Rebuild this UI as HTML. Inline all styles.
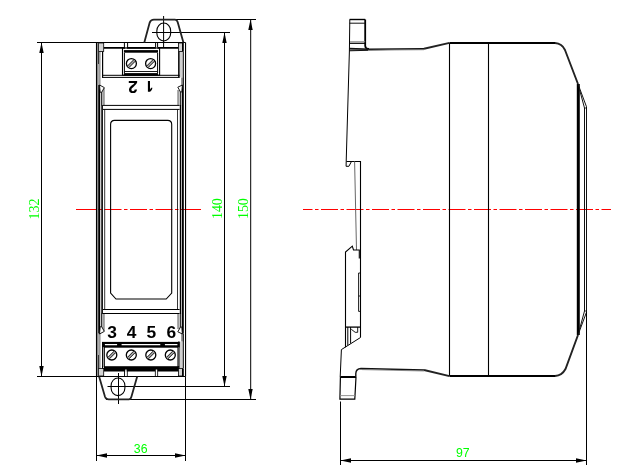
<!DOCTYPE html>
<html><head><meta charset="utf-8">
<style>
html,body{margin:0;padding:0;background:#fff;}
body{width:626px;height:466px;overflow:hidden;font-family:"Liberation Sans",sans-serif;}
svg{display:block;}
text{font-family:"Liberation Sans",sans-serif;}
.ser{font-family:"Liberation Serif",serif;}
</style></head><body>
<svg width="626" height="466" viewBox="0 0 626 466">
<defs>
<filter id="noop" x="0" y="0" width="626" height="466" filterUnits="userSpaceOnUse"><feOffset dx="0" dy="0"/></filter>
<g id="screw">
  <circle r="5" fill="#fff" stroke="#000" stroke-width="1.3"/>
  <path d="M-3.9,2.4 L2.4,-3.9 L3.9,-2.4 L-2.4,3.9 Z" fill="#aaa" stroke="none"/>
  <path d="M-3.9,2.4 L2.4,-3.9 M-2.4,3.9 L3.9,-2.4" stroke="#000" stroke-width="0.9" fill="none"/>
</g>
<path id="ahU" d="M0,0 L-2.2,10.5 L2.2,10.5 Z" fill="#000"/>
<path id="ahD" d="M0,0 L-2.2,-10.5 L2.2,-10.5 Z" fill="#000"/>
<path id="ahL" d="M0,0 L10.5,-2.2 L10.5,2.2 Z" fill="#000"/>
<path id="ahR" d="M0,0 L-10.5,-2.2 L-10.5,2.2 Z" fill="#000"/>
</defs>
<rect width="626" height="466" fill="#fff"/>

<!-- red centre lines -->
<g stroke="#f00" stroke-width="1.2" fill="none">
<path d="M76,209.5 H96.5 M181,209.5 H201"/>
<path d="M79,209.5 H198" stroke-dasharray="17 2.5 3.5 2.5"/>
<path d="M303,209.5 H611" stroke-dasharray="17 2.5 3.5 2.5" stroke-dashoffset="7.5"/>
</g>

<!-- FRONT VIEW -->
<g stroke="#000" stroke-width="1" fill="none">
<!-- extension + dims -->
<path d="M37,42.5 H185.5 M37,376.5 H185.5"/>
<path d="M41.5,42.5 V376.5"/>
<path d="M153,19.5 H256 M106,399.5 H256 M250.7,19.5 V399.5"/>
<path d="M152,32.5 H230 M107.5,386.5 H230 M224.5,32.5 V386.5"/>
<path d="M163.6,16 V47.5 M118.5,373 V404"/>
<path d="M96.5,376.5 V461 M185.5,376.5 V461 M96.5,455.5 H185.5"/>
</g>
<use href="#ahU" x="41.5" y="42.5"/><use href="#ahD" x="41.5" y="376.5"/>
<use href="#ahU" x="224.5" y="32.5"/><use href="#ahD" x="224.5" y="386.5"/>
<use href="#ahU" x="250.5" y="19.5"/><use href="#ahD" x="250.5" y="399.5"/>
<use href="#ahL" x="96.5" y="455.5"/><use href="#ahR" x="185.5" y="455.5"/>

<!-- tabs -->
<g stroke="#222" stroke-width="1.8" fill="none">
<path d="M144.3,42.4 L149.7,22.6 Q150.7,19.7 153.9,19.7 H174.85 Q177,19.7 177.8,22.6 L183.4,42.4"/>
<path d="M99.1,376.5 L105,396.8 Q106,399.4 108.75,399.4 H128.85 Q130.6,399.4 131.4,396.8 L137.2,376.5"/>
<rect x="156.85" y="23" width="13.8" height="18" rx="6.9" ry="7.8" stroke="#000" stroke-width="1.1"/>
<rect x="111.1" y="378" width="13.8" height="17.6" rx="6.9" ry="7.7" stroke="#000" stroke-width="1.1"/>
</g>

<!-- body -->
<g stroke="#000" fill="none">
<!-- grey bands -->
<g fill="#9a9a9a" stroke="none">
<rect x="98.2" y="51.4" width="2.4" height="33.6"/>
<rect x="98.2" y="333.6" width="2.4" height="35"/>
<rect x="181" y="77.4" width="2.5" height="7.6"/>
<rect x="181" y="333.6" width="2.5" height="8"/>
<rect x="102.4" y="88" width="2.4" height="17"/><rect x="177.2" y="90" width="2.4" height="15"/>
<rect x="102.4" y="314" width="2.4" height="17"/><rect x="177.2" y="314" width="2.4" height="15"/>
</g>
<g fill="#d0d0d0" stroke="none">
<rect x="179.6" y="51.4" width="3.2" height="26"/>
<rect x="179.6" y="341.6" width="3.2" height="26.8"/>
</g>
<!-- corner boxes -->
<g fill="#d4d4d4" stroke="#000" stroke-width="0.8">
<rect x="98.6" y="43" width="5.1" height="8.4"/><rect x="178.5" y="43" width="4" height="8.4"/>
<rect x="98.6" y="368.4" width="5.1" height="7.6"/><rect x="178.5" y="368.4" width="4" height="7.6"/>
</g>
<!-- L1 -->
<path d="M96.7,42.4 V376.5" stroke-width="1.5"/><path d="M185.55,42.4 V376.5" stroke-width="1.1"/>
<!-- L2 black -->
<path d="M99.2,85 V333.6 M182.8,85 V333.6" stroke-width="2"/>
<path d="M98.5,51.4 V64 M98.5,355 V368.4" stroke-width="0.7"/>
<path d="M182.9,42.4 V51.4 M182.9,368.4 V376.5" stroke-width="1.8"/>
<path d="M183.3,51.4 V85 M183.3,333.6 V368.4" stroke-width="1"/>
<!-- recess verticals -->
<path d="M102.6,51.4 V77.4 M102.6,341.9 V368.4" stroke-width="1.2"/>
<path d="M178.85,51.4 V77.6 M178.85,341.6 V368.4" stroke-width="1.5"/>
<!-- L3 -->
<path d="M101.6,92 V105.5 M180.6,92 V105.5 M101.6,313.5 V327 M180.6,313.5 V327" stroke-width="0.9"/>
<path d="M102.1,105 V314" stroke-width="1.6"/><path d="M180.45,105 V314" stroke-width="1.3"/>
<!-- L4 -->
<path d="M104.7,109.4 V309.5 M177.5,109.4 V309.5" stroke-width="0.8"/>
<!-- notches -->
<path d="M99.5,85 L104.3,87.6 L101.7,92.3 L100.2,92.3 Z M182.4,85 L177.8,87.2 L180.5,92 L181.8,92 Z" fill="#fff" stroke-width="0.9"/>
<path d="M99.5,334 L104.3,331.4 L101.7,326.7 L100.2,326.7 Z M182.4,334 L177.8,331.8 L180.5,327 L181.8,327 Z" fill="#fff" stroke-width="0.9"/>
<!-- horizontals -->
<path d="M103.9,47.85 H178.2" stroke-width="1.6"/>
<path d="M102,75.3 H179.6 M102,77.4 H179.6" stroke-width="1"/>
<path d="M103,105.4 H179.6 M103,109.4 H179.6 M103,313.5 H179.6 M103,309.5 H179.6" stroke-width="1"/>
<!-- top ticks -->
<path d="M124.4,42.5 V47.5 M127.6,42.5 V47.5 M155.6,42.5 V47.5 M157.6,42.5 V47.5" stroke-width="1"/>
<path d="M126,47 V49.1 M156.6,47 V49.1" stroke="#fff" stroke-width="1.6"/>
<!-- bottom ticks -->
<path d="M124.6,370 V376.5 M127.2,370 V376.5 M155.4,370 V376.5 M157.6,370 V376.5" stroke-width="1"/>
<!-- display -->
<path d="M110.6,293 V124.5 Q110.6,120.4 114.6,120.4 H167.7 Q171.7,120.4 171.7,124.5 V293 L166.2,299 H116 Z" stroke-width="1.1"/>
</g>

<!-- top terminal block -->
<g stroke="#000" fill="none">
<rect x="122.5" y="48" width="37.1" height="27.2" stroke-width="1.1"/>
<rect x="123.9" y="50.1" width="34.1" height="2.6" fill="#000" stroke="none"/>
<path d="M124.4,53 V73 M157.6,53 V73" stroke-width="1"/>
<path d="M124.4,71.5 H157.6" stroke-width="0.9"/>
<rect x="123.9" y="73.1" width="34.1" height="2.3" fill="#000" stroke="none"/>
</g>
<use href="#screw" x="131.4" y="63.6"/><use href="#screw" x="150.6" y="63.6"/>

<!-- bottom terminal block -->
<g stroke="#000" fill="none">
<rect x="102" y="341.9" width="77.7" height="5.8" fill="#000" stroke="none"/>
<path d="M104.9,344.6 H117.1 M121.6,344.6 H160.3 M164.9,344.6 H177.4" stroke="#fff" stroke-width="1.1"/>
<rect x="104" y="366.2" width="74.3" height="5.3" fill="#000" stroke="none"/>
<path d="M104.3,347 V367 M178,347 V367" stroke-width="1.1"/>
<path d="M103.4,347 V366 M178.9,347 V366" stroke="#999" stroke-width="0.8"/>
<path d="M125.9,369.6 V376 M156.5,369.6 V376" stroke="#fff" stroke-width="1.4"/>
</g>
<use href="#screw" x="111.8" y="355"/><use href="#screw" x="131.3" y="355"/><use href="#screw" x="150.8" y="355"/><use href="#screw" x="170.3" y="355"/>

<!-- labels -->
<g filter="url(#noop)">
<g font-weight="bold" font-size="15.8" fill="#000" text-anchor="middle">
<text transform="translate(112,337.9) scale(1.1,1)">3</text>
<text transform="translate(131.6,337.9) scale(1.1,1)">4</text>
<text transform="translate(151.4,337.9) scale(1.1,1)">5</text>
<text transform="translate(171.3,337.9) scale(1.1,1)">6</text>
<text transform="translate(132.9,80.85) rotate(180) scale(1.1,1)">2</text>
</g>
<path d="M147.9,80.95 H150 V89.4 L151.2,87.7 H152.4 C152.2,89.4 151.5,90.9 150,91.8 H147.9 Z" fill="#000" stroke="none"/>
</g>

<!-- dimension text -->
<g fill="#00ff00" filter="url(#noop)">
<text x="140.7" y="453" font-size="12.3" text-anchor="middle">36</text>
<text x="462.8" y="457" font-size="12.3" text-anchor="middle">97</text>
<g class="ser" font-size="15.4" text-anchor="middle">
<text class="ser" transform="translate(38.9,209) rotate(-90) scale(0.91,1)">132</text>
<text class="ser" transform="translate(222,208.6) rotate(-90) scale(0.9,1)">140</text>
<text class="ser" transform="translate(248,208.6) rotate(-90) scale(0.9,1)">150</text>
</g>
</g>

<!-- SIDE VIEW -->
<g stroke="#000" fill="none">
<!-- main body box -->
<path d="M449.5,43 H555" stroke-width="2"/>
<path d="M449.5,376 H555" stroke-width="2"/>
<path d="M449.5,43 V376 M488.5,43 V376" stroke-width="1.1"/>
<!-- front bezel -->
<path d="M555,43 Q562,43.5 565,50 L578,84" stroke="#222" stroke-width="1.9"/>
<path d="M555,376 Q562,375.5 565.5,369 L578,335" stroke="#222" stroke-width="1.9"/>
<path d="M578.3,84 V335" stroke-width="3"/>
<path d="M578,84 L586.5,106.8 V312.2 L578,335" stroke-width="1" stroke="#111"/>
<path d="M579.5,89.5 L584.5,108 V311 L579.5,329.5" stroke-width="1" stroke="#111"/>
<path d="M584.5,108 H586.5 M584.5,311 H586.5" stroke-width="0.8"/>
<!-- 97 dim -->
<path d="M586.5,312 V465 M340.5,401.5 V465 M340.5,460.5 H586.5" stroke-width="1"/>
</g>
<use href="#ahL" x="340.5" y="460.5"/><use href="#ahR" x="586.5" y="460.5"/>

<g stroke="#000" fill="none" stroke-width="1">
<!-- top tab -->
<path d="M349.6,19.5 H365.2" stroke-width="1.4"/>
<path d="M365.2,19.5 V46 Q365.5,49 369,49" stroke-width="1.8"/>
<path d="M349.6,23.2 H365.2" stroke-width="1" stroke="#111"/>
<path d="M349.6,41.7 H365.2" stroke-width="0.9" stroke="#888"/>
<path d="M349.6,43.3 H365.2" stroke-width="1.2"/>
<path d="M349.6,48.3 L349.6,51 L388,50 Z" fill="#888" stroke="none"/>
<path d="M349.6,48.5 L369,49.3 L424,48.7" stroke-width="1.5" stroke="#111"/>
<path d="M424,48.7 L449.5,42.9" stroke-width="1.9" stroke="#222"/>
<path d="M349.6,50.8 L368,50.3" stroke-width="1" stroke="#111"/>
<path d="M368,50.3 L395,49.9 L424,49.7" stroke-width="0.8" stroke="#666"/>
<!-- left edge -->
<path d="M349.8,19.5 L349.4,51 L346.2,161.5 L346.1,166.3 H348.9 L351.5,161.4" stroke-width="1"/>
<path d="M346.3,161.5 H360.5 V337.5" stroke-width="1.1"/>
<path d="M354.6,161.4 L356.5,250" stroke="#666" stroke-width="1"/>
<!-- clip -->
<path d="M345.5,347.2 V252 L352.3,246.2 L353.5,250 H359.3 V258.5" stroke-width="1.1"/>
<path d="M358.6,273 H360.5 M358.6,273 V311.4 H360.5 M358.6,296 H360.5" stroke-width="0.9"/>
<path d="M345.5,327.1 H360.5" stroke-width="1.3"/>
<path d="M347.8,327 V345.3 M350.6,327 V343.5" stroke-width="1"/>
<path d="M351.3,329.3 L355.2,332.3 H357.7 V327" stroke-width="0.9"/>
<path d="M360.5,337.5 L341.4,349.6 L340.2,377" stroke-width="1"/>
<!-- bottom tab -->
<path d="M340.4,377 H356" stroke-width="2"/>
<path d="M340.4,377 L339.9,399.2 H354.8 L356,377" stroke-width="1.2"/>
<path d="M340,395.6 H355" stroke="#888" stroke-width="0.9"/>
<path d="M355.8,377 V373.5 Q356,368.6 361,368.5 L424,370" stroke-width="1.4" stroke="#111"/>
<path d="M424,370 L449.5,376.2" stroke-width="1.9" stroke="#222"/>
<path d="M362,369.6 L424,371" stroke-width="0.8" stroke="#777"/>
</g>
</svg>
</body></html>
